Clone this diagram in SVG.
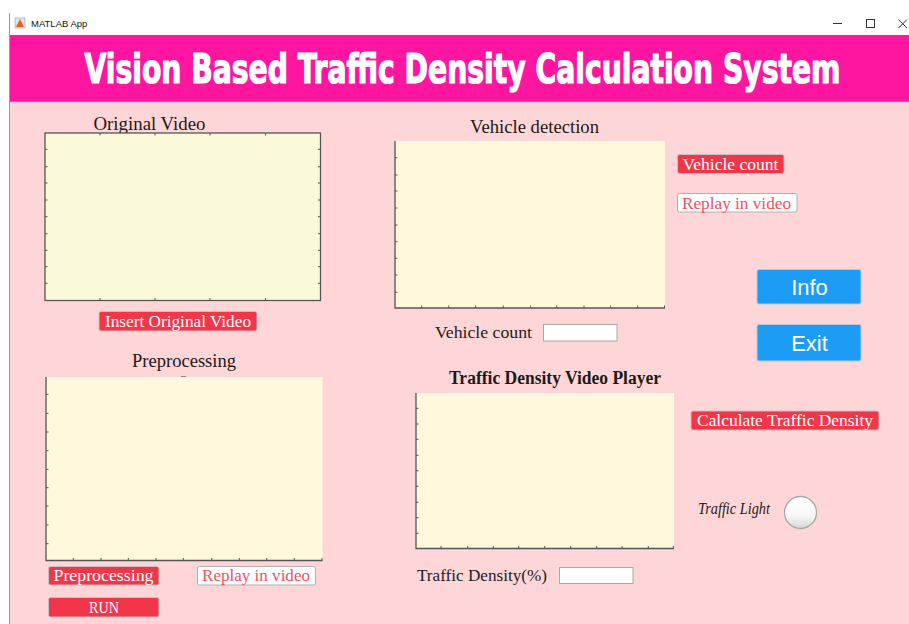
<svg xmlns="http://www.w3.org/2000/svg" width="909" height="624" viewBox="0 0 909 624">
<defs>
<style>
.ttl{font-family:"Liberation Serif","DejaVu Serif",serif;font-size:18px;fill:#1a1a1a}
.lbl{font-family:"Liberation Serif","DejaVu Serif",serif;font-size:16px;fill:#222}
.btxt{font-family:"Liberation Serif","DejaVu Serif",serif;font-size:16px;fill:#fff}
.rtxt{font-family:"Liberation Serif","DejaVu Serif",serif;font-size:16px;fill:#f0505f}
.rbtn{fill:#f2364a;stroke:#c8c0c0;stroke-width:1}
.wbtn{fill:#ffffff;stroke:#b0b0b0;stroke-width:1}
.bbtn{fill:#1d9cf5;stroke:#b0c8dc;stroke-width:1}
.btxtb{font-family:"Liberation Sans","Arial",sans-serif;font-size:22px;fill:#fff}
.ax{fill:#fff8dc;stroke:none}
.axl{stroke:#555;stroke-width:1.3;fill:none}
.tk{stroke:#555;stroke-width:1;fill:none}
.fld{fill:#fff;stroke:#a8a8a8;stroke-width:1}
</style>
<linearGradient id="lamp" x1="0" y1="0" x2="0" y2="1">
<stop offset="0" stop-color="#ffffff"/>
<stop offset="0.6" stop-color="#f8f8f8"/>
<stop offset="1" stop-color="#d6d6d6"/>
</linearGradient>
</defs>

<!-- window chrome -->
<rect x="0" y="0" width="909" height="624" fill="#ffffff"/>
<rect x="9" y="35" width="900" height="67" fill="#ff16a0"/>
<line x1="9" y1="102" x2="909" y2="102" stroke="#ff80c8" stroke-width="1.2"/>
<rect x="9" y="102.6" width="900" height="521.4" fill="#ffd6d7"/>
<line x1="9.5" y1="13" x2="9.5" y2="624" stroke="#9a9a9a" stroke-width="1"/>

<g id="titlebar">
<rect x="15" y="18" width="10" height="10" fill="#dfe6ef" stroke="#8aa0b8" stroke-width="0.6"/>
<polygon points="16,27 20,19 24,27" fill="#e4621a"/>
<text x="31" y="26.5" font-family="Liberation Sans, Arial, sans-serif" font-size="9.5" fill="#111">MATLAB App</text>
<line x1="833" y1="23.5" x2="842" y2="23.5" stroke="#333" stroke-width="1"/>
<rect x="866.5" y="19.5" width="8" height="8" fill="none" stroke="#333" stroke-width="1"/>
<path d="M898.5 19.5 L907 28 M907 19.5 L898.5 28" stroke="#333" stroke-width="1"/>
</g>

<g id="header">
<g transform="translate(462.5 0) scale(0.7 1)">
<text x="0" y="83.5" text-anchor="middle" textLength="1080" lengthAdjust="spacingAndGlyphs" font-family="DejaVu Sans Condensed, DejaVu Sans, sans-serif" font-weight="bold" font-size="41" fill="#ffffff" stroke="#ffffff" stroke-width="1.2">Vision Based Traffic Density Calculation System</text>
</g>
</g>

<!-- Original Video axes -->
<g id="axes-original">
<text class="ttl" x="149.5" y="130" text-anchor="middle" textLength="112" lengthAdjust="spacingAndGlyphs">Original Video</text>
<rect x="45" y="133" width="275.5" height="167.5" fill="#faf9d9" stroke="#555" stroke-width="1.3"/>
<path class="tk" d="M45 149.3h2.5M45 166.7h2.5M45 183h2.5M45 200h2.5M45 216.7h2.5M45 233.7h2.5M45 250.3h2.5M45 266.7h2.5M45 283.3h2.5
M320.5 149.3h-2.5M320.5 166.7h-2.5M320.5 183h-2.5M320.5 200h-2.5M320.5 216.7h-2.5M320.5 233.7h-2.5M320.5 250.3h-2.5M320.5 266.7h-2.5M320.5 283.3h-2.5
M100 300.5v-2.5M155 300.5v-2.5M210 300.5v-2.5M265.5 300.5v-2.5
M100 133v2.5M155 133v2.5M210 133v2.5M265.5 133v2.5"/>
</g>

<g id="btn-insert">
<rect class="rbtn" x="99" y="311.5" width="158" height="19.5" rx="2"/>
<text class="btxt" x="178" y="327" text-anchor="middle" textLength="146" lengthAdjust="spacingAndGlyphs">Insert Original Video</text>
</g>

<!-- Vehicle detection axes -->
<g id="axes-detection">
<text class="ttl" x="534.5" y="133" text-anchor="middle" textLength="129" lengthAdjust="spacingAndGlyphs">Vehicle detection</text>
<rect class="ax" x="395" y="141" width="270" height="167"/>
<path class="axl" d="M395 141V308H665"/>
<path class="tk" d="M395 157.7h2.5M395 175h2.5M395 191h2.5M395 208h2.5M395 225h2.5M395 241.7h2.5M395 258.3h2.5M395 275h2.5M395 292.3h2.5
M421.7 308v-2.5M448.7 308v-2.5M475.7 308v-2.5M503.3 308v-2.5M530.7 308v-2.5M556.7 308v-2.5M584 308v-2.5M610.7 308v-2.5M637.7 308v-2.5M664.5 308v-2.5"/>
</g>

<g id="btn-vehicle-count">
<rect class="rbtn" x="677.5" y="154.5" width="106.5" height="19" rx="2"/>
<text class="btxt" x="730.5" y="170" text-anchor="middle" textLength="96" lengthAdjust="spacingAndGlyphs">Vehicle count</text>
</g>

<g id="btn-replay-1">
<rect class="wbtn" x="677.5" y="193.5" width="119.5" height="18.5" rx="2" fill="#f8f2f2"/>
<text class="rtxt" x="736.5" y="208.5" text-anchor="middle" textLength="109" lengthAdjust="spacingAndGlyphs">Replay in video</text>
</g>

<g id="field-vehicle-count">
<text class="lbl" x="435" y="338" textLength="97" lengthAdjust="spacingAndGlyphs">Vehicle count</text>
<rect class="fld" x="543.5" y="324.5" width="73.5" height="16.5"/>
</g>

<g id="btn-info">
<rect class="bbtn" x="757" y="269.5" width="104" height="34.5" rx="2"/>
<text class="btxtb" x="809.5" y="294.5" text-anchor="middle">Info</text>
</g>

<g id="btn-exit">
<rect class="bbtn" x="757" y="324.5" width="104" height="36.5" rx="2"/>
<text class="btxtb" x="809.5" y="350.5" text-anchor="middle">Exit</text>
</g>

<!-- Preprocessing axes -->
<g id="axes-preprocessing">
<text class="ttl" x="184" y="367" text-anchor="middle" textLength="104" lengthAdjust="spacingAndGlyphs">Preprocessing</text>
<line x1="181" y1="376.5" x2="186" y2="376.5" stroke="#888" stroke-width="1"/>
<rect class="ax" x="46" y="377" width="276.5" height="183.5"/>
<path class="axl" d="M46 377V560.5H322.5"/>
<path class="tk" d="M46 394.3h2.5M46 413.3h2.5M46 432h2.5M46 450.7h2.5M46 469.3h2.5M46 487.7h2.5M46 506h2.5M46 525h2.5M46 543.7h2.5
M73.3 560.5v-2.5M101 560.5v-2.5M128.3 560.5v-2.5M156 560.5v-2.5M183.3 560.5v-2.5M211.7 560.5v-2.5M239.3 560.5v-2.5M266.7 560.5v-2.5M294.3 560.5v-2.5M322 560.5v-2.5"/>
</g>

<g id="btn-preprocessing">
<rect class="rbtn" x="48.5" y="566.5" width="110.5" height="18.5" rx="2"/>
<text class="btxt" x="103.5" y="581" text-anchor="middle" textLength="100" lengthAdjust="spacingAndGlyphs">Preprocessing</text>
</g>

<g id="btn-replay-2">
<rect class="wbtn" x="197.5" y="566.5" width="118" height="18.5" rx="2"/>
<text class="rtxt" x="256" y="581" text-anchor="middle" textLength="108" lengthAdjust="spacingAndGlyphs">Replay in video</text>
</g>

<g id="btn-run">
<rect class="rbtn" x="48.5" y="597.5" width="110.5" height="19.5" rx="2"/>
<text class="btxt" x="104" y="612.5" text-anchor="middle" font-size="13" textLength="30" lengthAdjust="spacingAndGlyphs">RUN</text>
</g>

<!-- Traffic Density Video Player axes -->
<g id="axes-player">
<text class="ttl" x="555" y="384" text-anchor="middle" font-weight="bold" textLength="212" lengthAdjust="spacingAndGlyphs">Traffic Density Video Player</text>
<rect class="ax" x="416" y="393" width="258" height="155.5"/>
<path class="axl" d="M416 393V548.5H674"/>
<path class="tk" d="M416 408.3h2.5M416 424h2.5M416 439.3h2.5M416 455.3h2.5M416 470.7h2.5M416 486.3h2.5M416 502.3h2.5M416 517.7h2.5M416 533.3h2.5
M441 548.5v-2.5M467.7 548.5v-2.5M493.3 548.5v-2.5M518.7 548.5v-2.5M544.7 548.5v-2.5M570.7 548.5v-2.5M596.7 548.5v-2.5M622 548.5v-2.5M648.3 548.5v-2.5M673.3 548.5v-2.5"/>
</g>

<g id="btn-calc-density">
<rect class="rbtn" x="691" y="411" width="188" height="19" rx="2"/>
<text class="btxt" x="785" y="426" text-anchor="middle" textLength="176" lengthAdjust="spacingAndGlyphs">Calculate Traffic Density</text>
</g>

<g id="traffic-light">
<text x="698" y="514" font-family="Liberation Serif, DejaVu Serif, serif" font-style="italic" font-size="16" fill="#222" textLength="72" lengthAdjust="spacingAndGlyphs">Traffic Light</text>
<circle cx="800.5" cy="512.5" r="16" fill="url(#lamp)" stroke="#a8a8a8" stroke-width="1.3"/>
</g>

<g id="field-density">
<text class="lbl" x="417" y="581" textLength="130" lengthAdjust="spacingAndGlyphs">Traffic Density(%)</text>
<rect class="fld" x="559.5" y="567.5" width="73.5" height="16"/>
</g>

<g id="connectors"></g>
</svg>
